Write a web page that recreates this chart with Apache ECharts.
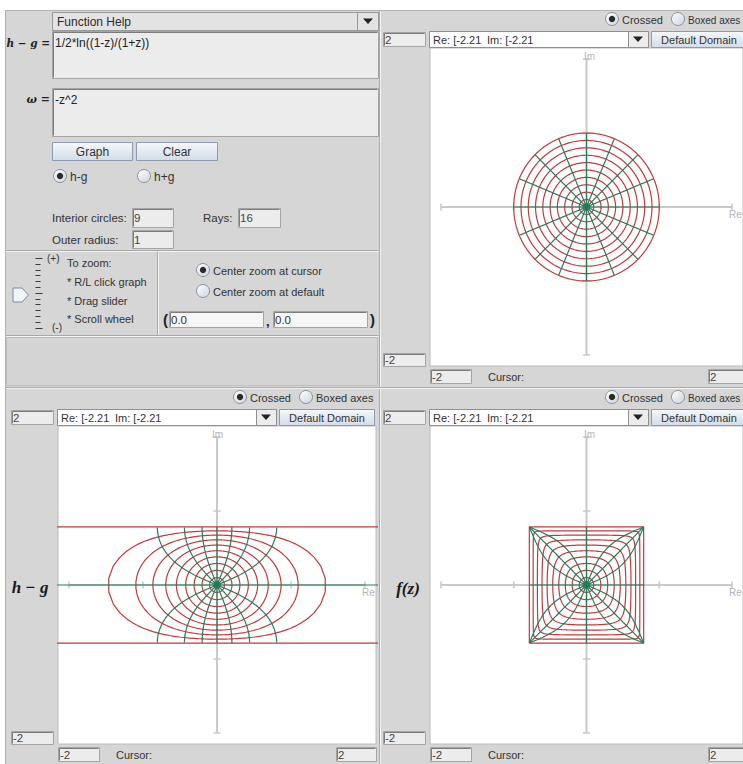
<!DOCTYPE html>
<html>
<head>
<meta charset="utf-8">
<title>Harmonic shear</title>
<script src="https://cdn.jsdelivr.net/npm/echarts/dist/echarts.min.js"></script>
<style>
  html, body { margin: 0; padding: 0; background: #ffffff; }
  #chart { width: 743px; height: 764px; }
</style>
</head>
<body>
<div id="chart"></div>
<script>
// ---- inputs shown in the form ----
const shearFormula = '1/2*ln((1-z)/(1+z))';
const dilatationFormula = '-z^2';
const interiorCircles = '9';
const rayCount = '16';
const outerRadius = '1';
const zoomCenter = ['0.0', '0.0'];

// ---- domain grid: circle radii and ray angles (degrees) ----
const circleRadii = [0.1, 0.2, 0.3, 0.4, 0.5, 0.6, 0.7, 0.8, 0.9, 1.0];
const rayAnglesDeg = [0, 22.5, 45, 67.5, 90, 112.5, 135, 157.5, 180, 202.5, 225, 247.5, 270, 292.5, 315, 337.5];

// ---- axes of each plot ----
const viewRange = [-2.15, 2.15];
const axisExtent = [-2, 2];
const axisTicks = [-2, -1, 1, 2];
const domainTop = '2', domainBottom = '-2', domainLeft = '-2', domainRight = '2';
const rangeText = ['Re: [-2.21', 'Im: [-2.21'];

// ---- complex helpers ----
function clog(z) { return [Math.log(Math.hypot(z[0], z[1])), Math.atan2(z[1], z[0])]; }
function cdiv(a, b) {
  const d = b[0] * b[0] + b[1] * b[1];
  return [(a[0] * b[0] + a[1] * b[1]) / d, (a[1] * b[0] - a[0] * b[1]) / d];
}
function artanh(z) {
  const L = clog(cdiv([1 + z[0], z[1]], [1 - z[0], -z[1]]));
  return [L[0] / 2, L[1] / 2];
}
function arctan(z) {
  // (1 + iz) / (1 - iz), then -(i/2) log
  const L = clog(cdiv([1 - z[1], z[0]], [1 + z[1], -z[0]]));
  return [L[1] / 2, -L[0] / 2];
}
// identity: the unit-disk grid itself
function identity(z) { return [z[0], z[1]]; }
// h - g = 1/2 ln((1-z)/(1+z))
function shear(z) {
  const L = clog(cdiv([1 - z[0], -z[1]], [1 + z[0], z[1]]));
  return [L[0] / 2, L[1] / 2];
}
// f = h + conj(g) with h - g as above and dilatation w = -z^2:
// h = -(artanh z + arctan z)/2, g = (artanh z - arctan z)/2
function harmonic(z) {
  const A = artanh(z), T = arctan(z);
  return [-T[0], -A[1]];
}

// parameter samples along each circle and each ray
const circleSamples = 160;
const raySteps = [];
for (let j = 0; j < 80; j++) raySteps.push(j / 80);
raySteps.push(0.995, 0.999, 0.9999, 0.99999, 1 - 1e-9);

function gridCurves(map) {
  const circles = circleRadii.map(r => {
    const pts = [];
    for (let j = 0; j <= circleSamples; j++) {
      const t = 2 * Math.PI * (j + 0.5) / circleSamples;
      const w = map([r * Math.cos(t), r * Math.sin(t)]);
      if (isFinite(w[0]) && isFinite(w[1])) pts.push(w);
    }
    return pts;
  });
  const rays = rayAnglesDeg.map(a => {
    const t = a * Math.PI / 180;
    const pts = [];
    raySteps.forEach(r => {
      const w = map([r * Math.cos(t), r * Math.sin(t)]);
      if (isFinite(w[0]) && isFinite(w[1])) pts.push(w);
    });
    return pts;
  });
  return { circles, rays, center: map([0, 0]) };
}

// ---- layout ----
const W = 743, H = 764;
const PLOT = 318;
const panels = [
  { ox: 380, oy: 10, map: identity },
  { ox: 8, oy: 388, map: shear },
  { ox: 380, oy: 388, map: harmonic }
];

const FONT = '"Liberation Sans", Arial, sans-serif';
const circleColor = '#c23a3a';
const rayColor = '#2b7a5c';
const axisColor = '#c9c9c9';
const gray = '#d6d6d6';

const G = [];
function rect(x, y, w, h, fill, stroke, z) {
  G.push({ type: 'rect', z: z == null ? 100 : z, silent: true,
    shape: { x: x + 0.5, y: y + 0.5, width: w, height: h },
    style: { fill: fill, stroke: stroke || null, lineWidth: 1 } });
}
function line(x1, y1, x2, y2, color, z) {
  G.push({ type: 'line', z: z == null ? 100 : z, silent: true,
    shape: { x1: x1 + 0.5, y1: y1 + 0.5, x2: x2 + 0.5, y2: y2 + 0.5 },
    style: { stroke: color, lineWidth: 1 } });
}
function text(x, y, str, opt) {
  opt = opt || {};
  G.push({ type: 'text', z: 101, silent: true, x: x, y: y,
    style: { text: str, font: opt.font || ('12px ' + FONT), fill: opt.color || '#2a2a2a',
      textAlign: opt.align || 'left', textVerticalAlign: 'middle' } });
}
function field(x, y, w, h, fill) {
  rect(x, y, w, h, fill || '#ececec', '#a4a4a4');
  line(x + 1, y + 1, x + w - 1, y + 1, '#7c7c7c');
  line(x + 1, y + 1, x + 1, y + h - 1, '#7c7c7c');
}
const btnFill = { type: 'linear', x: 0, y: 0, x2: 0, y2: 1,
  colorStops: [{ offset: 0, color: '#f5f8fb' }, { offset: 1, color: '#d3dce7' }] };
function button(x, y, w, h, label, font) {
  rect(x, y, w, h, btnFill, '#8d9bb0');
  text(x + w / 2 + 0.5, y + h / 2 + 1, label, { align: 'center', font: font || ('12px ' + FONT), color: '#333' });
}
function radio(cx, cy, on, label, font) {
  G.push({ type: 'circle', z: 100, silent: true, shape: { cx: cx, cy: cy, r: 6.5 },
    style: { fill: { type: 'linear', x: 0, y: 0, x2: 1, y2: 1,
      colorStops: [{ offset: 0, color: '#ffffff' }, { offset: 1, color: '#cbd5e1' }] },
      stroke: '#8a8f96', lineWidth: 1 } });
  if (on) G.push({ type: 'circle', z: 101, silent: true, shape: { cx: cx, cy: cy, r: 3.2 }, style: { fill: '#2a2a2a' } });
  if (label) text(cx + 10, cy + 1, label, { font: font || ('11px ' + FONT), color: '#333' });
}
function downArrow(cx, cy) {
  G.push({ type: 'polygon', z: 101, silent: true,
    shape: { points: [[cx - 5, cy - 2.5], [cx + 5, cy - 2.5], [cx, cy + 3]] }, style: { fill: '#222' } });
}
function etchedH(x1, x2, y) { line(x1, y, x2, y, '#a9a9a9'); line(x1, y + 1, x2, y + 1, '#f4f4f4'); }
function etchedV(x, y1, y2) { line(x, y1, x, y2, '#a9a9a9'); line(x + 1, y1, x + 1, y2, '#f4f4f4'); }

// window background
rect(4.5, 9.5, W, H, gray, null, -100);

// ---- control panel ----
rect(52, 12, 326, 18, '#e3e3e3', '#9a9a9a');
text(57, 21.5, 'Function Help');
rect(357, 12, 21, 18, '#e3e3e3', '#9a9a9a');
downArrow(368, 21);

text(50, 43, 'h − g =', { align: 'right', font: 'italic bold 10.5px "DejaVu Serif", serif', color: '#222' });
field(52, 31, 326, 47);
text(55, 43, shearFormula, { font: '12px ' + FONT, color: '#222' });

text(50, 99, 'ω =', { align: 'right', font: 'italic bold 11px "DejaVu Serif", serif', color: '#222' });
field(52, 88, 326, 48);
text(55, 100, dilatationFormula, { font: '12px ' + FONT, color: '#222' });

button(52, 142, 80, 18, 'Graph');
button(136, 142, 81, 18, 'Clear');
radio(60, 176, true, 'h-g', '12px ' + FONT);
radio(144, 176, false, 'h+g', '12px ' + FONT);

text(52, 218, 'Interior circles:', { font: '11.5px ' + FONT, color: '#333' });
field(132, 208, 41, 19);
text(134, 218, interiorCircles, { font: '11.5px ' + FONT, color: '#444' });
text(203, 218, 'Rays:', { font: '11.5px ' + FONT, color: '#333' });
field(238, 208, 42, 19);
text(240, 218, rayCount, { font: '11.5px ' + FONT, color: '#444' });
text(52, 240, 'Outer radius:', { font: '11.5px ' + FONT, color: '#333' });
field(132, 230, 41, 18);
text(134, 240, outerRadius, { font: '11.5px ' + FONT, color: '#444' });

etchedH(5, 378, 250);
etchedV(157, 251, 334);
etchedH(5, 378, 335);
rect(6, 337, 371, 48, '#d4d4d4', '#bdbdbd');

// zoom slider
for (let i = 0; i <= 12; i++) {
  const y = 258 + i * 5.8;
  const len = (i % 6 === 0) ? 7 : 5;
  line(35, Math.round(y), 35 + len, Math.round(y), '#3a3a3a');
}
G.push({ type: 'polygon', z: 101, silent: true,
  shape: { points: [[13, 288], [22, 288], [28.5, 295], [22, 302], [13, 302]] },
  style: { fill: '#f2f5f9', stroke: '#7d8ba0', lineWidth: 1 } });
text(47, 258, '(+)', { font: '10px ' + FONT, color: '#333' });
text(67, 263, 'To zoom:', { font: '11px ' + FONT, color: '#333' });
text(67, 282, '* R/L click graph', { font: '11px ' + FONT, color: '#333' });
text(67, 301, '* Drag slider', { font: '11px ' + FONT, color: '#333' });
text(67, 319, '* Scroll wheel', { font: '11px ' + FONT, color: '#333' });
text(52, 327, '(-)', { font: '10px ' + FONT, color: '#333' });

radio(203, 270, true, 'Center zoom at cursor', '11px ' + FONT);
radio(203, 291, false, 'Center zoom at default', '11px ' + FONT);
text(163, 319, '(', { font: 'bold 15px ' + FONT, color: '#222' });
field(169, 311, 94, 16, '#f6f6f6');
text(171, 319.5, zoomCenter[0], { font: '11.5px ' + FONT, color: '#333' });
text(266, 321, ',', { font: 'bold 13px ' + FONT, color: '#222' });
field(273, 311, 94, 16, '#f6f6f6');
text(275, 319.5, zoomCenter[1], { font: '11.5px ' + FONT, color: '#333' });
text(370, 319, ')', { font: 'bold 15px ' + FONT, color: '#222' });

// panel separators
etchedV(379, 10, 764);
etchedH(5, 743, 387);
line(5, 10, 5, 764, '#b3b3b3');
line(5, 10, 743, 10, '#b3b3b3');

// ---- plot panels ----
panels.forEach(p => {
  const ox = p.ox, oy = p.oy;
  // panels at the right window edge get slightly tighter labels so they stay inside
  const atEdge = ox + 372 > W;
  radio(ox + 232, oy + 9, true, 'Crossed', '11px ' + FONT);
  radio(ox + 298, oy + 9, false, 'Boxed axes', (atEdge ? '10px ' : '11px ') + FONT);
  field(ox + 3, oy + 22, 42, 14);
  text(ox + 5, oy + 30, domainTop, { font: '11.5px ' + FONT, color: '#444' });
  rect(ox + 49, oy + 21, 219, 16, '#ffffff', '#8f8f8f');
  text(ox + 53, oy + 29.5, rangeText[0], { font: '11px ' + FONT, color: '#333' });
  text(ox + 107, oy + 29.5, rangeText[1], { font: '11px ' + FONT, color: '#333' });
  rect(ox + 248, oy + 21, 20, 16, '#ececec', '#8f8f8f');
  downArrow(ox + 258, oy + 29);
  button(ox + 271, oy + 21, 95, 16, 'Default Domain', '11px ' + FONT);
  field(ox + 3, oy + 343, 42, 13);
  text(ox + 5, oy + 350, domainBottom, { font: '11.5px ' + FONT, color: '#444' });
  field(ox + 50, oy + 359, 41, 14);
  text(ox + 52, oy + 366.5, domainLeft, { font: '11.5px ' + FONT, color: '#444' });
  text(ox + 108, oy + 366.5, 'Cursor:', { font: '11px ' + FONT, color: '#333' });
  field(ox + 328, oy + 359, 40, 14);
  text(ox + 330, oy + 366.5, domainRight, { font: '11.5px ' + FONT, color: '#444' });
  const cx = ox + 50 + PLOT / 2, cy = oy + 38 + PLOT / 2;
  text(cx + 0.5, oy + 38 + 8, 'Im', { align: 'center', font: '10px ' + FONT, color: '#b5b5b5' });
  text(cx + (atEdge ? 140 : 145), cy + 7, 'Re', { font: '10px ' + FONT, color: '#b5b5b5' });
});
text(30, 587, 'h − g', { align: 'center', font: 'italic bold 17px "Liberation Serif", serif', color: '#1a1a1a' });
text(408, 588, 'f(z)', { align: 'center', font: 'italic bold 17px "Liberation Serif", serif', color: '#1a1a1a' });

// ---- charts ----
const grids = [], xAxes = [], yAxes = [], series = [];
panels.forEach((p, i) => {
  grids.push({ left: p.ox + 50, top: p.oy + 38, width: PLOT, height: PLOT,
    show: true, backgroundColor: '#ffffff', borderColor: '#bcbcbc', borderWidth: 1 });
  xAxes.push({ gridIndex: i, type: 'value', min: viewRange[0], max: viewRange[1], show: false });
  yAxes.push({ gridIndex: i, type: 'value', min: viewRange[0], max: viewRange[1], show: false });
  const base = { xAxisIndex: i, yAxisIndex: i, silent: true, animation: false };
  // crossed axes with unit ticks
  series.push(Object.assign({ type: 'line', data: [[axisExtent[0], 0], [axisExtent[1], 0]], symbol: 'none',
    lineStyle: { color: axisColor, width: 2 }, z: 1 }, base));
  series.push(Object.assign({ type: 'line', data: [[0, axisExtent[0]], [0, axisExtent[1]]], symbol: 'none',
    lineStyle: { color: axisColor, width: 2 }, z: 1 }, base));
  series.push(Object.assign({ type: 'scatter', data: axisTicks.map(t => [t, 0]), symbol: 'rect',
    symbolSize: [2, 7], itemStyle: { color: axisColor }, z: 1 }, base));
  series.push(Object.assign({ type: 'scatter', data: axisTicks.map(t => [0, t]), symbol: 'rect',
    symbolSize: [7, 2], itemStyle: { color: axisColor }, z: 1 }, base));
  const c = gridCurves(p.map);
  c.circles.forEach(pts => series.push(Object.assign({ type: 'line', data: pts, symbol: 'none', clip: true,
    lineStyle: { color: circleColor, width: 1.2 }, z: 2 }, base)));
  c.rays.forEach(pts => series.push(Object.assign({ type: 'line', data: pts, symbol: 'none', clip: true,
    lineStyle: { color: rayColor, width: 1.2 }, z: 3 }, base)));
  series.push(Object.assign({ type: 'scatter', data: [c.center], symbolSize: 8,
    itemStyle: { color: '#1f7a55' }, z: 4 }, base));
});

const chart = echarts.init(document.getElementById('chart'), null, { renderer: 'svg', width: W, height: H });
chart.setOption({
  backgroundColor: '#ffffff',
  animation: false,
  grid: grids,
  xAxis: xAxes,
  yAxis: yAxes,
  series: series,
  graphic: { elements: G }
});
</script>
</body>
</html>
